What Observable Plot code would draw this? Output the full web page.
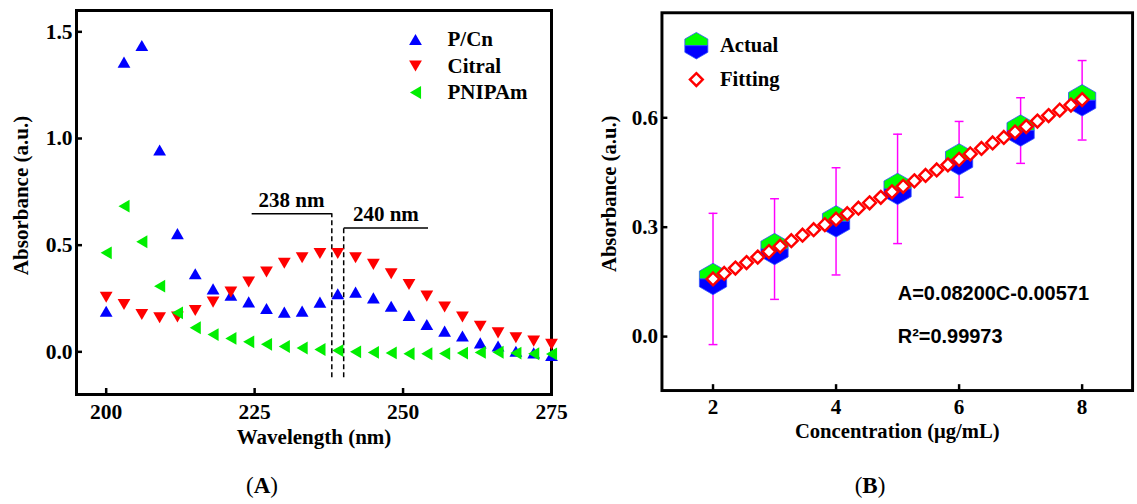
<!DOCTYPE html>
<html><head><meta charset="utf-8">
<script src="https://cdn.jsdelivr.net/npm/d3@7"></script>
<script src="https://cdn.jsdelivr.net/npm/@observablehq/plot@0.6"></script>
<style>
html,body{margin:0;padding:0;background:#fff;}
#fig{position:relative;width:1137px;height:504px;overflow:hidden;background:#fff;}
#left{position:absolute;left:0;top:0;}
#right{position:absolute;left:575px;top:0;}
.plabel{position:absolute;top:474px;font-family:"Liberation Serif",serif;font-size:23px;line-height:1;transform:translateX(-50%);}
</style></head><body>
<div id="fig"><div id="left"></div><div id="right"></div>
<div class="plabel" style="left:262px">(<b>A</b>)</div>
<div class="plabel" style="left:870px">(<b>B</b>)</div></div>
<script>
// ---------- Panel A data ----------
const wavelength = [200,203,206,209,212,215,218,221,224,227,230,233,236,239,242,245,248,251,254,257,260,263,266,269,272,275];
const pcn    = [0.19,1.358,1.436,0.946,0.554,0.366,0.295,0.266,0.234,0.203,0.186,0.191,0.233,0.272,0.28,0.253,0.214,0.171,0.128,0.097,0.074,0.042,0.027,0.003,-0.005,-0.017];
const citral = [0.256,0.222,0.175,0.16,0.163,0.194,0.233,0.28,0.327,0.374,0.415,0.441,0.461,0.461,0.441,0.41,0.366,0.316,0.261,0.21,0.163,0.12,0.089,0.066,0.05,0.035];
const pnipam = [0.464,0.683,0.516,0.308,0.183,0.113,0.081,0.063,0.047,0.035,0.025,0.018,0.011,0.006,0.0,-0.003,-0.005,-0.009,-0.009,-0.008,-0.006,-0.003,-0.002,-0.006,-0.009,-0.01];
const seriesNamesA = ["P/Cn","Citral","PNIPAm"];
const seriesColorsA = ["#0000ff","#ff0000","#00ee00"];
const xTicksA = [200,225,250,275];
const yTicksA = [0,0.5,1.0,1.5];
// peak annotations
const peakNm = [238,240];
const peakLabels = ["238 nm","240 nm"];
const bracketEnd = [224.5,254.2];
const bracketLevel = [0.647,0.58];
const peakLabelX = [231.2,247.1];
const peakLabelY = [0.711,0.646];
const dashBottom = -0.122;

// ---------- Panel B data ----------
const concentration = [2,3,4,5,6,7,8];
const actual = [0.158,0.240,0.316,0.405,0.486,0.565,0.648];
const actualErr = [0.180,0.138,0.147,0.150,0.104,0.090,0.109];
const fitC = [2.000,2.182,2.364,2.545,2.727,2.909,3.091,3.273,3.455,3.636,3.818,4.000,4.182,4.364,4.545,4.727,4.909,5.091,5.273,5.455,5.636,5.818,6.000,6.182,6.364,6.545,6.727,6.909,7.091,7.273,7.455,7.636,7.818,8.000];
const fitA = [0.158,0.173,0.188,0.203,0.218,0.233,0.248,0.263,0.278,0.293,0.307,0.322,0.337,0.352,0.367,0.382,0.397,0.412,0.427,0.442,0.457,0.471,0.486,0.501,0.516,0.531,0.546,0.561,0.576,0.591,0.606,0.621,0.635,0.650];
const xTicksB = [2,4,6,8];
const yTicksB = [0,0.3,0.6];
const legendB = ["Actual","Fitting"];
const equationLines = ["A=0.08200C-0.00571","R\u00b2=0.99973"];

// ---------- custom symbols ----------
const rad = s => Math.sqrt(s/Math.PI);
const triUp = {draw(c,size){const s=rad(size),h=s*Math.sqrt(3);c.moveTo(0,-h/2);c.lineTo(s,h/2);c.lineTo(-s,h/2);c.closePath();}};
const triDown = {draw(c,size){const s=rad(size),h=s*Math.sqrt(3);c.moveTo(0,h/2);c.lineTo(s,-h/2);c.lineTo(-s,-h/2);c.closePath();}};
const triLeft = {draw(c,size){const s=rad(size),h=s*Math.sqrt(3);c.moveTo(-h/2,0);c.lineTo(h/2,-s);c.lineTo(h/2,s);c.closePath();}};
const hexTop = {draw(c,size){const R=rad(size),w=R*Math.sqrt(3)/2;c.moveTo(-w,0);c.lineTo(-w,-R/2);c.lineTo(0,-R);c.lineTo(w,-R/2);c.lineTo(w,0);c.closePath();}};
const hexBottom = {draw(c,size){const R=rad(size),w=R*Math.sqrt(3)/2;c.moveTo(-w,0);c.lineTo(-w,R/2);c.lineTo(0,R);c.lineTo(w,R/2);c.lineTo(w,0);c.closePath();}};
const diamond = {draw(c,size){const r=rad(size);c.moveTo(0,-r);c.lineTo(r,0);c.lineTo(0,r);c.lineTo(-r,0);c.closePath();}};
const cap = {draw(c,size){const r=rad(size);c.moveTo(-r,0);c.lineTo(r,0);}};
const symbolsA = [triUp,triDown,triLeft];

const serif = "Liberation Serif, Times New Roman, serif";
const sans = "Liberation Sans, Arial, sans-serif";
const T = {fontWeight: "bold", lineAnchor: "middle"};

// ---------- Panel A ----------
const seriesA = [pcn,citral,pnipam].map(vals => wavelength.map((w,i)=>({w, a: vals[i]})));
const peaks = peakNm.map((p,i)=>({p, end: bracketEnd[i], lvl: bracketLevel[i], lx: peakLabelX[i], ly: peakLabelY[i], label: peakLabels[i]}));

const left = Plot.plot({
  width: 575, height: 450,
  marginLeft: 76, marginRight: 24, marginTop: 10, marginBottom: 56,
  style: {fontFamily: serif, fontWeight: "bold", fontSize: "20px", background: "transparent", color: "black"},
  x: {domain: [195, 275]},
  y: {domain: [-0.2, 1.6]},
  marks: [
    Plot.axisX(xTicksA, {tickSize: -6, tickPadding: 15, strokeWidth: 2.5, label: null, fontSize: 21.5, fontWeight: "bold"}),
    Plot.axisY(yTicksA, {tickSize: -6, tickPadding: 10, strokeWidth: 2.5, label: null, tickFormat: d3.format(".1f"), fontSize: 21.5, fontWeight: "bold"}),
    Plot.frame({stroke: "black", strokeWidth: 3}),
    Plot.link(peaks, {x1: "end", x2: "p", y1: "lvl", y2: "lvl", stroke: "black", strokeWidth: 1.5}),
    Plot.ruleX(peaks, {x: "p", y1: dashBottom, y2: "lvl", stroke: "black", strokeWidth: 1.5, strokeDasharray: "5,3"}),
    Plot.text(peaks, {x: "lx", y: "ly", text: "label", fontSize: 21, ...T}),
    ...seriesA.map((rows,i)=>Plot.dot(rows, {x: "w", y: "a", symbol: symbolsA[i], r: 6.4, fill: seriesColorsA[i], stroke: "none"})),
    ...seriesNamesA.map((n,i)=>Plot.dot([n], {frameAnchor: "top-left", dx: 339, dy: 29 + 26.5*i, symbol: symbolsA[i], r: 6.4, fill: seriesColorsA[i], stroke: "none"})),
    ...seriesNamesA.map((n,i)=>Plot.text([n], {frameAnchor: "top-left", dx: 371, dy: 29 + 26.5*i, text: d=>d, textAnchor: "start", fontSize: 21, ...T})),
    Plot.text(["Absorbance (a.u.)"], {frameAnchor: "left", dx: -55, dy: -7, rotate: -90, text: d=>d, textAnchor: "middle", fontSize: 21, ...T}),
    Plot.text(["Wavelength (nm)"], {frameAnchor: "bottom", dy: 43, text: d=>d, textAnchor: "middle", fontSize: 21, ...T})
  ]
});
document.getElementById("left").append(left);

// ---------- Panel B ----------
const actualRows = concentration.map((c,i)=>({c, m: actual[i], e: actualErr[i]}));
const fitRows = fitC.map((c,i)=>({c, a: fitA[i]}));

const right = Plot.plot({
  width: 572, height: 450,
  marginLeft: 88, marginRight: 5, marginTop: 12.5, marginBottom: 53,
  style: {fontFamily: serif, fontWeight: "bold", fontSize: "20px", background: "transparent", color: "black", overflow: "visible"},
  x: {domain: [1.17, 8.82]},
  y: {domain: [-0.148, 0.888]},
  marks: [
    Plot.axisX(xTicksB, {tickSize: -6, tickPadding: 15, strokeWidth: 2.5, label: null, fontSize: 21.5, fontWeight: "bold"}),
    Plot.axisY(yTicksB, {tickSize: -6, tickPadding: 10, strokeWidth: 2.5, label: null, tickFormat: d3.format(".1f"), fontSize: 21.5, fontWeight: "bold"}),
    Plot.frame({stroke: "black", strokeWidth: 3}),
    Plot.ruleX(actualRows, {x: "c", y1: d=>d.m-d.e, y2: d=>d.m+d.e, stroke: "#ff00ff", strokeWidth: 1.5}),
    Plot.dot(actualRows, {x: "c", y: d=>d.m+d.e, symbol: cap, r: 4.5, stroke: "#ff00ff", strokeWidth: 1.5, fill: "none"}),
    Plot.dot(actualRows, {x: "c", y: d=>d.m-d.e, symbol: cap, r: 4.5, stroke: "#ff00ff", strokeWidth: 1.5, fill: "none"}),
    Plot.dot(actualRows, {x: "c", y: "m", symbol: hexTop, r: 16, fill: "#00ff00", stroke: "#3050ff", strokeWidth: 0.8}),
    Plot.dot(actualRows, {x: "c", y: "m", symbol: hexBottom, r: 16, fill: "#0000ff", stroke: "#3050ff", strokeWidth: 0.8}),
    Plot.dot(fitRows, {x: "c", y: "a", symbol: diamond, r: 6.5, fill: "white", stroke: "#ff0000", strokeWidth: 2.5}),
    // legend
    Plot.dot([legendB[0]], {frameAnchor: "top-left", dx: 35, dy: 33.5, symbol: hexTop, r: 13.5, fill: "#00ff00", stroke: "#3050ff", strokeWidth: 0.8}),
    Plot.dot([legendB[0]], {frameAnchor: "top-left", dx: 35, dy: 33.5, symbol: hexBottom, r: 13.5, fill: "#0000ff", stroke: "#3050ff", strokeWidth: 0.8}),
    Plot.dot([legendB[1]], {frameAnchor: "top-left", dx: 35, dy: 68, symbol: diamond, r: 6.5, fill: "white", stroke: "#ff0000", strokeWidth: 2.5}),
    ...legendB.map((n,i)=>Plot.text([n], {frameAnchor: "top-left", dx: 59, dy: 33.5 + 34.5*i, text: d=>d, textAnchor: "start", fontSize: 21, ...T})),
    ...equationLines.map((t,i)=>Plot.text([t], {frameAnchor: "top-left", dx: 240, dy: 285.5 + 44*i, text: d=>d, textAnchor: "start", fontFamily: sans, fontSize: 20.3, ...T})),
    Plot.text(["Absorbance (a.u.)"], {frameAnchor: "left", dx: -53, dy: -8, rotate: -90, text: d=>d, textAnchor: "middle", fontSize: 21, ...T}),
    Plot.text(["Concentration (\u03bcg/mL)"], {frameAnchor: "bottom", dy: 42, text: d=>d, textAnchor: "middle", fontSize: 21, ...T})
  ]
});
document.getElementById("right").append(right);
</script>
</body></html>
